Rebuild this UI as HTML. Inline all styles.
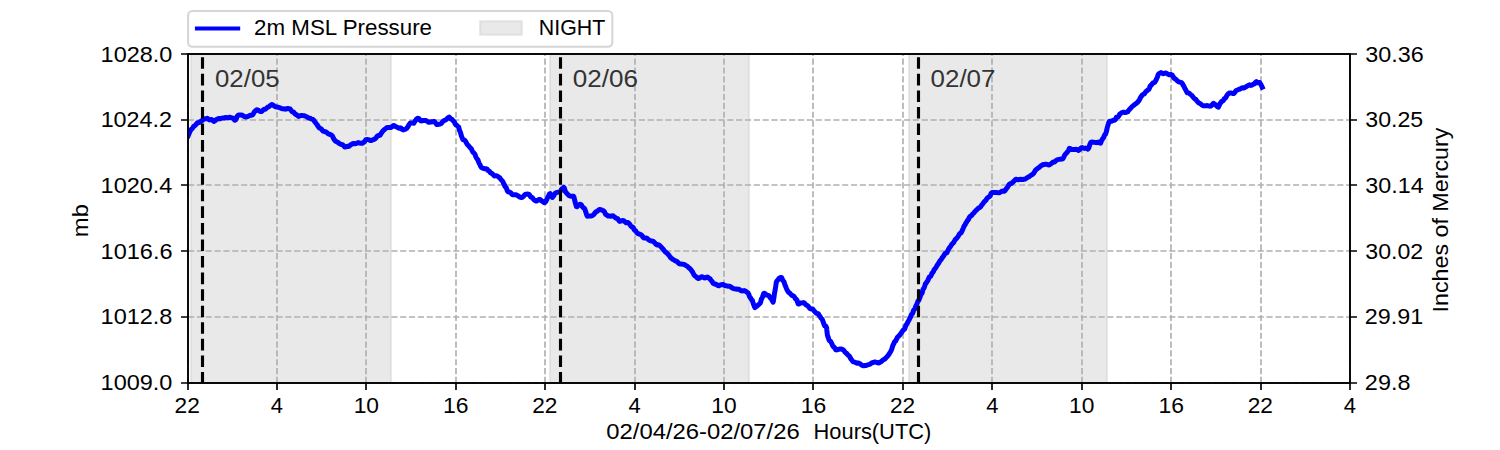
<!DOCTYPE html><html><head><meta charset="utf-8"><style>html,body{margin:0;padding:0;background:#fff;width:1500px;height:450px;overflow:hidden}svg{display:block}text{font-family:"Liberation Sans",sans-serif}</style></head><body>
<svg width="1500" height="450" viewBox="0 0 1500 450">
<rect x="0" y="0" width="1500" height="450" fill="#fff"/>
<rect x="191" y="54" width="200" height="329" fill="#d3d3d3" fill-opacity="0.5" stroke="#d3d3d3" stroke-opacity="0.5" stroke-width="2.08"/>
<rect x="550" y="54" width="199" height="329" fill="#d3d3d3" fill-opacity="0.5" stroke="#d3d3d3" stroke-opacity="0.5" stroke-width="2.08"/>
<rect x="909" y="54" width="198" height="329" fill="#d3d3d3" fill-opacity="0.5" stroke="#d3d3d3" stroke-opacity="0.5" stroke-width="2.08"/>
<path d="M188 383V54M277 383V54M366 383V54M456 383V54M545 383V54M635 383V54M724 383V54M813 383V54M903 383V54M992 383V54M1082 383V54M1171 383V54M1261 383V54M1350 383V54M188 383H1350M188 317H1350M188 251H1350M188 185H1350M188 120H1350M188 54H1350" stroke="#b0b0b0" stroke-width="1.667" stroke-dasharray="6.17 2.67" fill="none"/>
<defs><clipPath id="ax"><rect x="187.5" y="54" width="1162.5" height="329"/></clipPath></defs>
<polyline clip-path="url(#ax)" points="188.2,135.6 188.7,134.5 189.3,133.1 189.8,131.8 190.4,130.7 190.9,129.7 191.5,129.2 192.2,128.6 193.1,127.3 193.9,126.2 194.8,125.8 195.6,125.0 196.5,123.9 197.4,122.8 198.5,122.7 199.6,122.3 200.7,121.4 201.9,120.6 203.0,119.9 204.0,119.1 205.1,118.8 206.1,118.6 207.2,118.3 208.3,119.2 209.4,119.9 210.5,119.7 211.6,119.5 212.8,120.4 213.9,121.5 214.9,120.8 216.0,119.8 217.1,119.2 218.1,118.7 219.2,118.5 220.4,118.7 221.6,118.2 222.7,118.1 223.9,118.1 225.1,117.6 226.3,117.6 227.5,117.7 228.7,117.5 229.9,117.2 231.1,117.8 232.3,117.9 233.2,118.1 233.9,119.3 234.7,120.3 235.3,120.0 235.9,119.6 236.5,118.2 237.1,116.4 237.8,115.6 238.5,115.1 239.7,115.1 240.9,115.1 242.1,115.1 243.2,115.8 244.2,116.5 245.2,116.7 246.2,117.0 247.3,116.7 248.5,116.2 249.6,115.5 250.8,115.2 251.8,115.2 252.6,114.9 253.4,113.8 254.2,112.1 255.0,111.2 255.8,110.4 256.9,109.8 258.1,110.1 259.3,111.0 260.5,111.6 261.6,111.5 262.7,110.4 263.7,109.5 264.7,109.3 265.7,109.0 266.8,108.0 267.8,107.1 268.8,106.7 269.8,106.0 270.8,105.1 271.9,104.5 273.0,105.1 274.1,105.9 275.3,106.7 276.4,107.0 277.6,107.1 278.7,107.4 279.9,107.8 281.0,108.3 282.1,108.7 283.2,108.8 284.4,108.9 285.5,109.2 286.6,108.8 287.8,108.5 289.0,108.8 290.2,109.0 291.1,110.4 292.0,111.7 292.8,111.8 293.7,112.3 294.6,113.5 295.6,114.3 296.5,114.8 297.5,115.6 298.5,116.4 299.7,116.1 300.9,115.5 302.1,115.4 303.2,115.6 304.4,115.8 305.5,116.3 306.7,116.8 307.8,117.6 308.9,118.0 310.0,118.2 310.9,118.7 311.9,119.1 312.9,119.4 313.8,120.3 314.6,121.5 315.3,122.4 316.1,123.5 316.9,124.5 317.6,125.5 318.4,126.7 319.2,127.8 320.1,128.3 321.1,128.7 322.1,130.2 323.0,131.2 324.0,131.3 325.0,131.6 326.1,132.1 327.1,132.8 328.1,133.7 329.2,134.2 330.2,134.5 331.2,134.9 332.1,135.6 332.8,136.8 333.5,138.4 334.2,139.5 334.9,140.5 335.6,141.2 336.4,141.6 337.4,142.2 338.5,142.9 339.5,143.6 340.5,144.2 341.6,144.5 342.6,144.7 343.7,145.8 344.8,147.0 345.9,147.0 347.0,146.3 348.1,146.5 349.2,146.2 350.3,145.1 351.4,144.4 352.5,143.8 353.6,143.4 354.8,143.7 356.0,143.6 357.1,143.0 358.3,142.6 359.4,143.0 360.6,143.2 361.8,143.3 362.8,143.0 363.5,142.3 364.3,142.0 365.0,140.9 365.7,139.9 366.6,139.5 367.8,139.5 369.0,139.9 370.2,140.4 371.3,140.5 372.4,140.0 373.3,139.6 374.3,139.3 375.3,138.6 376.3,137.5 377.2,136.2 378.2,135.4 379.2,135.5 380.2,135.1 380.9,133.8 381.5,132.9 382.1,132.1 382.8,131.2 383.7,130.2 384.7,129.3 385.6,128.6 386.7,127.7 387.8,127.5 388.9,127.5 390.1,127.4 391.2,127.4 392.3,126.5 393.4,125.4 394.5,125.6 395.7,126.6 396.8,127.0 397.9,127.7 399.0,128.2 400.1,127.8 401.1,128.1 402.2,129.5 403.3,129.9 404.5,129.5 405.7,129.1 406.8,128.3 407.5,127.3 408.1,126.5 408.7,125.2 409.3,124.2 409.8,123.7 410.4,123.0 411.5,123.1 412.7,123.1 413.8,123.2 414.4,122.1 415.0,121.3 415.6,120.5 416.2,119.5 416.8,118.8 417.4,118.3 418.1,118.3 418.9,118.6 419.7,119.6 420.5,120.6 421.3,121.0 422.2,120.7 423.3,120.5 424.4,120.5 425.4,120.4 426.5,120.8 427.6,121.5 428.6,122.3 429.7,122.2 430.8,121.8 432.0,121.9 433.2,121.5 434.4,121.4 435.6,123.0 436.7,124.4 437.8,124.5 438.9,124.2 439.9,124.1 440.7,123.9 441.6,123.1 442.4,122.0 443.3,121.1 444.2,120.5 445.2,120.2 446.3,119.5 447.3,118.4 448.3,117.5 449.3,117.1 450.2,118.1 451.0,119.0 451.9,119.4 452.7,120.3 453.6,121.2 454.4,122.1 455.2,123.9 456.0,124.9 456.8,125.3 457.6,126.2 458.3,126.7 458.7,127.1 459.1,128.7 459.5,130.3 459.9,131.2 460.3,132.1 460.7,133.3 461.1,134.9 461.6,136.4 462.0,137.4 462.4,138.5 463.0,139.7 463.8,140.0 464.7,140.2 465.5,141.2 466.4,143.0 467.2,144.3 467.9,145.1 468.6,145.8 469.3,146.6 470.0,147.4 470.8,148.2 471.5,149.1 472.1,150.5 472.8,152.0 473.5,152.7 474.1,153.2 474.8,153.9 475.3,155.2 475.9,157.0 476.4,158.0 476.9,158.6 477.5,159.3 478.0,160.1 478.5,161.7 479.1,163.1 479.5,163.9 480.0,164.8 480.5,166.0 481.0,166.9 481.5,167.6 482.5,168.1 483.7,168.5 484.9,168.7 486.1,168.7 487.2,169.3 488.0,170.5 488.7,170.8 489.5,171.3 490.3,172.5 491.1,173.2 492.2,173.6 493.3,174.8 494.4,175.9 495.4,175.8 496.5,175.7 497.6,176.2 498.5,177.1 499.4,177.5 500.3,178.5 501.2,179.9 502.1,180.6 503.0,181.9 503.5,183.3 504.0,184.0 504.5,185.3 505.0,186.5 505.5,187.0 506.0,187.3 506.5,188.3 507.0,190.1 507.9,191.6 508.8,192.1 509.7,192.1 510.6,192.6 511.5,193.7 512.5,194.7 513.7,194.7 514.9,194.8 516.1,194.8 517.1,195.2 518.1,195.9 519.1,196.6 520.1,197.3 521.2,197.4 522.3,197.3 523.4,196.4 524.4,195.1 525.5,194.2 526.7,194.3 527.9,194.0 529.1,194.4 530.1,195.9 530.8,197.1 531.6,197.3 532.4,197.7 533.2,198.8 534.1,199.8 535.3,200.6 536.5,201.1 537.7,200.4 538.9,199.5 540.1,199.4 541.1,200.3 542.0,201.1 542.9,201.7 543.8,202.5 544.6,202.6 545.2,202.2 545.8,201.6 546.4,200.2 547.0,198.8 547.6,197.7 548.2,196.5 548.8,195.3 549.4,194.0 550.1,193.6 550.8,194.8 551.6,196.4 552.3,197.4 553.1,196.6 553.9,195.5 554.7,193.9 555.5,193.0 556.3,192.7 557.4,192.4 558.5,192.1 559.7,191.9 560.6,191.0 561.4,189.4 562.2,188.6 563.0,188.4 563.7,187.3 564.3,188.0 564.8,189.8 565.3,191.4 565.9,192.2 566.4,192.8 566.9,193.4 567.9,194.4 569.0,195.6 570.2,196.0 571.3,196.2 572.4,196.3 573.5,196.2 573.9,196.9 574.3,198.5 574.6,200.0 574.9,201.0 575.2,202.5 575.5,203.6 575.8,204.2 576.1,205.3 576.4,206.6 577.1,206.7 578.0,205.8 578.9,204.9 579.9,204.2 580.7,204.4 581.6,205.2 582.5,206.7 583.3,207.7 584.2,208.0 584.8,209.1 585.2,210.2 585.6,211.4 586.1,212.9 586.5,214.2 586.9,215.4 587.4,216.2 588.6,216.1 589.8,215.9 591.0,215.9 592.1,215.8 593.0,215.1 593.9,214.3 594.8,213.2 595.7,212.1 596.5,211.5 597.4,211.1 598.3,210.3 599.3,209.6 600.4,209.6 601.6,209.9 602.7,210.5 603.6,210.9 604.3,211.6 605.1,213.3 605.8,214.6 606.5,214.8 607.2,215.4 608.2,216.0 609.4,216.1 610.6,216.2 611.8,215.9 613.0,215.8 614.0,216.6 614.9,217.3 615.8,218.0 616.7,218.4 617.6,218.7 618.5,220.0 619.5,221.4 620.7,221.1 621.9,220.7 623.0,220.5 624.1,220.9 625.1,221.9 626.1,222.7 627.1,222.5 628.1,222.5 629.0,223.3 629.9,224.5 630.8,226.0 631.8,226.9 632.6,227.0 633.3,227.6 634.0,229.3 634.7,230.3 635.5,230.6 636.2,231.7 637.1,232.9 638.1,233.7 639.1,234.0 640.1,234.3 641.1,234.7 642.2,235.8 643.2,237.4 644.2,238.0 645.2,238.0 646.2,238.0 647.2,238.4 648.3,239.5 649.4,240.3 650.5,240.8 651.6,241.0 652.8,241.2 653.9,241.9 654.9,243.0 655.9,244.3 656.9,245.0 658.0,244.8 659.0,245.0 659.9,245.7 660.7,246.5 661.6,247.4 662.4,248.3 663.2,249.2 664.0,250.4 664.9,251.4 665.7,252.2 666.5,252.8 667.3,253.4 668.1,254.2 668.9,255.3 669.7,256.4 670.5,257.5 671.3,258.2 672.1,258.8 673.0,259.5 674.1,260.0 675.1,260.7 676.1,261.2 677.2,261.6 678.2,262.7 679.2,263.7 680.3,264.0 681.5,264.1 682.7,264.2 683.8,264.4 685.0,264.8 686.0,265.6 687.0,266.2 688.0,266.8 688.9,267.8 689.9,268.7 690.7,269.4 691.4,270.4 692.0,271.3 692.6,272.1 693.3,273.5 693.9,274.8 694.7,275.7 695.6,276.4 696.4,276.9 697.2,277.9 698.3,278.5 699.4,278.2 700.6,277.4 701.7,276.7 702.9,277.1 704.1,277.8 705.3,277.9 706.4,277.3 707.6,277.1 708.7,277.9 709.4,278.5 710.1,278.8 710.8,280.1 711.6,280.9 712.3,281.7 713.1,283.2 714.3,284.0 715.5,284.1 716.6,284.6 717.8,285.5 719.0,285.7 720.2,285.1 721.4,284.7 722.5,284.5 723.7,284.8 724.9,285.5 726.1,285.8 727.3,285.9 728.4,286.3 729.6,286.3 730.7,286.8 731.8,287.7 733.0,288.3 734.1,288.7 735.2,288.9 736.3,289.0 737.4,289.3 738.5,289.2 739.6,289.6 740.8,290.6 742.0,291.0 743.2,290.8 744.3,290.6 745.5,291.0 746.3,291.9 747.2,292.3 748.0,293.0 748.9,294.6 749.4,296.4 750.0,297.3 750.6,297.9 751.2,299.2 751.7,300.0 752.3,300.3 752.8,301.9 753.4,303.8 753.9,305.2 754.4,306.6 755.0,307.5 755.9,306.8 756.9,306.1 757.9,305.3 758.9,304.3 759.7,303.6 760.1,303.2 760.6,302.3 761.0,300.6 761.4,299.1 761.9,298.3 762.3,297.5 762.8,296.3 763.2,295.1 763.7,293.4 764.5,293.3 765.6,294.1 766.7,295.1 767.8,295.4 768.6,295.4 769.4,296.3 770.1,297.7 770.8,298.3 771.6,299.2 772.3,300.9 773.1,302.1 773.4,301.0 773.5,299.8 773.7,298.7 773.9,297.6 774.1,296.3 774.3,294.6 774.5,293.2 774.7,292.3 774.9,291.3 775.1,290.4 775.3,289.0 775.5,287.5 775.7,286.4 775.8,285.5 776.0,284.4 776.2,282.9 776.4,281.8 776.6,281.5 776.8,281.0 777.8,280.1 778.8,278.6 779.8,277.9 780.8,277.5 781.4,277.4 781.9,278.0 782.4,279.5 782.9,280.6 783.4,281.1 783.9,281.7 784.4,283.1 784.9,284.8 785.4,285.9 785.9,287.0 786.4,288.4 786.9,289.6 787.4,290.5 787.9,291.5 788.5,292.2 789.4,292.8 790.4,293.8 791.4,295.0 792.3,295.5 793.3,295.8 794.2,296.6 794.9,297.9 795.5,298.8 796.2,299.2 796.9,300.1 797.6,302.1 798.2,304.0 799.2,303.9 800.3,303.0 801.4,302.9 802.6,302.8 803.6,302.6 804.5,303.2 805.5,304.3 806.4,305.1 807.4,305.5 808.3,306.3 809.3,307.8 810.2,308.7 811.1,309.0 812.0,309.1 812.9,309.4 813.8,310.5 814.7,311.6 815.6,312.5 816.5,313.3 817.5,313.5 818.4,313.9 819.1,315.2 819.8,316.2 820.4,317.1 821.1,318.2 821.8,318.8 822.4,319.8 823.1,321.6 823.6,323.2 824.1,324.6 824.7,325.8 825.2,325.9 825.8,326.0 826.3,327.0 826.7,328.3 826.8,329.9 826.9,331.0 827.0,332.0 827.2,333.3 827.3,334.6 827.7,336.0 828.1,337.3 828.5,338.3 828.8,339.4 829.2,340.4 830.0,341.0 830.8,341.7 831.7,343.4 832.5,345.3 833.3,346.5 833.9,347.2 834.5,347.6 835.1,348.4 835.7,349.7 836.7,349.9 837.9,349.4 839.0,349.2 840.2,349.0 841.4,348.9 842.4,349.4 843.4,349.9 844.4,351.2 845.4,352.6 846.2,353.1 846.9,353.6 847.7,354.8 848.5,355.6 849.3,356.0 850.0,357.1 850.7,358.6 851.4,359.5 852.2,360.6 852.9,361.6 853.7,361.9 854.9,362.1 856.0,362.8 857.1,363.3 858.2,363.0 859.3,363.3 860.5,364.2 861.6,365.0 862.8,365.7 864.0,365.7 865.1,365.5 866.3,365.4 867.4,365.0 868.6,364.6 869.8,364.4 870.9,363.5 872.0,362.7 873.2,362.5 874.3,362.1 875.4,362.0 876.6,362.4 877.8,362.8 879.0,363.0 880.2,362.2 881.4,361.5 882.3,360.7 883.2,359.9 884.1,359.3 885.0,358.9 885.9,357.8 886.8,356.8 887.4,356.4 888.0,355.7 888.6,354.6 889.3,353.7 889.9,352.7 890.5,351.8 891.0,350.9 891.5,349.7 892.0,348.4 892.4,346.9 892.9,345.3 893.4,344.4 893.9,343.6 894.3,342.3 894.9,341.3 895.6,341.0 896.3,339.7 897.1,337.9 897.8,336.8 898.6,336.3 899.3,335.6 900.1,334.6 900.7,333.7 901.4,332.8 902.0,331.9 902.7,330.7 903.4,329.9 904.0,329.8 904.7,328.9 905.4,326.9 905.9,325.3 906.5,324.5 907.1,323.7 907.7,322.3 908.3,321.3 908.9,320.3 909.5,319.0 910.1,317.9 910.7,316.7 911.2,315.2 911.7,314.3 912.2,313.8 912.7,313.1 913.2,311.7 913.7,310.1 914.2,309.5 914.7,309.1 915.2,308.1 915.7,306.5 916.2,305.3 916.8,304.4 917.3,303.0 917.8,301.5 918.2,300.9 918.7,300.5 919.1,299.6 919.6,298.3 920.1,297.0 920.5,295.8 921.0,294.4 921.4,293.7 921.9,293.4 922.4,291.9 922.8,290.0 923.3,288.9 923.8,288.3 924.3,287.3 924.9,285.5 925.4,283.8 926.0,283.2 926.5,282.5 927.0,281.8 927.6,281.0 928.1,279.9 928.7,278.4 929.3,277.1 929.9,276.8 930.6,276.4 931.3,275.0 931.9,273.5 932.6,272.7 933.3,271.8 933.9,270.2 934.6,269.1 935.3,268.5 935.9,267.5 936.6,266.3 937.2,265.2 937.9,264.2 938.6,263.2 939.3,262.0 940.0,260.8 940.6,260.2 941.3,259.4 942.0,258.0 942.7,257.2 943.4,256.3 944.0,255.1 944.7,254.0 945.4,253.2 946.1,253.1 946.8,252.9 947.4,251.6 948.1,249.9 948.8,248.7 949.5,247.7 950.2,246.9 950.9,245.9 951.6,244.5 952.4,243.7 953.1,243.1 953.8,242.2 954.5,240.9 955.2,239.5 956.0,238.9 956.7,238.2 957.5,237.2 958.3,236.1 959.1,234.6 959.8,233.4 960.6,233.3 961.2,232.7 961.8,231.4 962.3,230.4 962.8,229.4 963.4,227.9 963.9,226.5 964.4,225.8 965.0,224.9 965.6,223.6 966.2,222.8 966.9,221.5 967.5,220.4 968.2,219.9 968.8,218.6 969.5,217.1 970.1,216.4 970.8,216.2 971.7,215.4 972.5,214.1 973.4,213.4 974.2,212.5 975.1,211.4 975.9,210.6 976.8,209.7 977.8,208.7 978.7,208.1 979.7,207.6 980.6,206.9 981.3,205.6 981.9,204.8 982.5,204.3 983.1,203.3 983.7,202.4 984.4,201.6 985.2,200.9 986.1,200.0 986.9,198.6 987.8,197.5 988.6,197.0 989.5,196.7 990.3,195.5 991.1,193.3 992.0,192.5 992.8,192.5 993.7,192.4 994.9,192.4 996.1,192.4 997.3,192.6 998.5,192.8 999.7,192.5 1000.8,191.9 1002.0,191.2 1003.2,191.1 1004.4,191.2 1005.1,190.5 1005.9,189.4 1006.6,188.2 1007.4,187.4 1008.1,186.2 1008.9,184.9 1009.6,184.0 1010.4,183.7 1011.3,183.5 1012.2,182.8 1013.1,181.9 1014.0,181.1 1014.9,180.1 1015.8,179.2 1017.0,179.5 1018.2,179.7 1019.4,179.4 1020.6,179.3 1021.8,179.5 1023.0,179.6 1024.1,179.2 1025.1,179.0 1026.2,178.4 1027.3,177.7 1028.3,177.1 1029.3,176.6 1030.2,175.9 1031.0,175.2 1031.9,174.8 1032.7,174.1 1033.6,173.3 1034.4,172.1 1035.3,170.5 1036.1,169.6 1037.0,169.0 1037.8,168.2 1038.9,167.6 1040.0,166.6 1041.1,165.7 1042.1,165.1 1043.2,164.6 1044.3,164.5 1045.4,164.3 1046.6,164.3 1047.8,164.8 1049.0,164.9 1050.2,164.4 1051.2,163.6 1052.1,162.8 1053.0,162.0 1053.9,162.0 1054.8,161.9 1055.7,160.9 1056.7,160.0 1057.9,159.6 1059.0,159.4 1060.2,159.2 1061.4,159.0 1062.4,159.1 1063.1,158.4 1063.8,157.0 1064.5,155.5 1065.2,154.4 1065.9,153.6 1066.6,152.9 1067.3,152.0 1068.0,151.2 1068.7,150.0 1069.4,148.3 1070.5,148.6 1071.6,149.5 1072.8,149.5 1074.0,149.4 1075.1,149.6 1076.3,149.3 1077.4,149.8 1078.6,150.4 1079.7,149.5 1080.9,148.1 1082.0,147.5 1083.2,148.0 1084.4,148.4 1085.6,148.1 1086.8,148.3 1088.0,149.1 1088.6,148.3 1089.2,146.6 1089.7,144.9 1090.2,143.6 1090.8,142.5 1091.6,141.9 1092.7,142.2 1093.9,142.2 1095.1,142.4 1096.2,142.7 1097.4,142.3 1098.5,142.1 1099.6,142.9 1100.6,143.2 1101.2,141.4 1101.9,140.1 1102.5,139.0 1103.1,138.2 1103.7,137.3 1104.3,135.6 1104.9,134.5 1105.5,134.1 1105.8,133.2 1106.2,132.2 1106.5,131.1 1106.8,130.0 1107.1,128.6 1107.4,126.9 1107.8,125.8 1108.1,124.9 1108.4,124.0 1108.7,122.8 1109.4,121.5 1110.4,121.2 1111.5,121.2 1112.6,120.6 1113.7,120.1 1114.6,120.3 1115.5,119.4 1116.3,117.4 1117.2,117.0 1118.0,117.0 1118.9,115.8 1119.7,114.3 1120.8,113.4 1121.9,112.7 1123.0,112.2 1124.1,112.3 1125.3,112.5 1126.5,112.3 1127.7,111.8 1128.4,110.7 1129.1,109.9 1129.8,109.0 1130.5,108.3 1131.1,107.9 1131.8,106.9 1132.8,106.0 1133.8,105.3 1134.8,104.4 1135.8,103.6 1136.8,103.0 1137.6,102.2 1138.3,101.2 1139.0,100.6 1139.6,99.4 1140.3,97.9 1141.0,96.8 1141.7,95.9 1142.3,95.0 1143.1,94.4 1144.2,94.0 1145.2,92.6 1146.2,91.3 1147.2,90.7 1147.8,89.9 1148.4,89.6 1148.9,89.3 1149.5,87.9 1150.1,86.1 1150.7,85.4 1151.3,85.2 1152.0,84.1 1152.9,83.0 1153.7,82.8 1154.6,82.5 1155.4,81.2 1156.2,79.7 1156.7,78.5 1157.3,77.3 1157.8,75.7 1158.3,74.5 1159.0,73.7 1160.1,73.0 1161.1,72.6 1162.2,73.2 1163.4,73.7 1164.6,73.2 1165.8,73.0 1166.9,73.5 1168.1,74.3 1169.2,74.8 1170.3,74.6 1171.3,74.6 1172.2,75.2 1173.0,76.4 1173.9,77.9 1174.7,78.7 1175.6,79.1 1176.5,80.0 1177.5,81.0 1178.5,81.7 1179.5,82.1 1180.5,82.3 1181.5,82.6 1182.5,83.8 1183.1,85.3 1183.6,85.8 1184.2,86.9 1184.8,88.4 1185.4,89.3 1185.9,90.2 1186.5,91.5 1187.1,92.7 1188.1,92.9 1189.1,93.2 1190.1,94.1 1191.1,94.9 1192.1,95.7 1193.0,96.9 1193.9,98.1 1194.8,98.8 1195.7,99.4 1196.6,100.5 1197.5,101.6 1198.4,102.6 1199.2,103.2 1200.1,103.5 1200.9,104.2 1201.8,105.0 1202.6,105.5 1203.8,105.7 1205.0,105.9 1206.2,105.7 1207.4,105.6 1208.5,105.9 1209.6,106.2 1210.6,106.1 1211.6,105.4 1212.5,104.3 1213.5,103.3 1214.5,103.9 1215.5,104.8 1216.5,105.7 1217.5,106.8 1218.4,107.2 1219.2,105.5 1219.9,103.8 1220.7,102.7 1221.4,101.7 1222.2,101.2 1222.9,101.1 1223.6,99.9 1224.4,98.5 1225.1,98.2 1225.9,97.6 1226.6,96.0 1227.4,94.7 1228.1,94.0 1228.8,93.4 1229.6,92.9 1230.6,92.9 1231.7,93.2 1232.9,93.5 1234.1,93.4 1235.0,92.1 1236.0,90.6 1237.0,90.2 1238.0,89.8 1239.1,89.3 1240.2,89.1 1241.3,88.3 1242.4,87.8 1243.6,88.1 1244.7,87.7 1245.6,86.9 1246.6,86.4 1247.6,85.7 1248.7,85.2 1249.7,84.8 1250.8,85.5 1251.7,85.2 1252.7,84.5 1253.6,84.2 1254.5,83.8 1255.4,82.4 1256.3,81.7 1257.4,82.7 1258.6,82.6 1259.7,82.6 1260.5,83.8 1261.1,85.0 1261.6,85.9 1262.2,87.2" stroke="#0000ff" stroke-width="5.0" fill="none" stroke-linejoin="round" stroke-linecap="square"/>
<path d="M202.5 383V54" stroke="#000" stroke-width="3.125" stroke-dasharray="11.56 5" stroke-dashoffset="0.5" fill="none"/>
<path d="M560.5 383V54" stroke="#000" stroke-width="3.125" stroke-dasharray="11.56 5" stroke-dashoffset="0.5" fill="none"/>
<path d="M918.5 383V54" stroke="#000" stroke-width="3.125" stroke-dasharray="11.56 5" stroke-dashoffset="0.5" fill="none"/>
<text x="215.00" y="86.50" font-size="23.3" textLength="64.61" lengthAdjust="spacingAndGlyphs" fill="#333333">02/05</text>
<text x="572.79" y="86.50" font-size="23.3" textLength="65.24" lengthAdjust="spacingAndGlyphs" fill="#333333">02/06</text>
<text x="930.60" y="86.50" font-size="23.3" textLength="64.84" lengthAdjust="spacingAndGlyphs" fill="#333333">02/07</text>
<rect x="188" y="54" width="1162" height="329" fill="none" stroke="#000" stroke-width="1.9"/>
<path d="M188 383v7.0M277 383v7.0M366 383v7.0M456 383v7.0M545 383v7.0M635 383v7.0M724 383v7.0M813 383v7.0M903 383v7.0M992 383v7.0M1082 383v7.0M1171 383v7.0M1261 383v7.0M1350 383v7.0M188 383h-7.0M1350 383h7.0M188 317h-7.0M1350 317h7.0M188 251h-7.0M1350 251h7.0M188 185h-7.0M1350 185h7.0M188 120h-7.0M1350 120h7.0M188 54h-7.0M1350 54h7.0" stroke="#000" stroke-width="1.667" fill="none"/>
<text x="174.59" y="413.00" font-size="21.2" textLength="25.23" lengthAdjust="spacingAndGlyphs">22</text>
<text x="270.79" y="413.00" font-size="21.2" textLength="12.23" lengthAdjust="spacingAndGlyphs">4</text>
<text x="353.69" y="413.00" font-size="21.2" textLength="25.36" lengthAdjust="spacingAndGlyphs">10</text>
<text x="443.11" y="413.00" font-size="21.2" textLength="25.48" lengthAdjust="spacingAndGlyphs">16</text>
<text x="532.28" y="413.00" font-size="21.2" textLength="25.23" lengthAdjust="spacingAndGlyphs">22</text>
<text x="628.48" y="413.00" font-size="21.2" textLength="12.23" lengthAdjust="spacingAndGlyphs">4</text>
<text x="711.38" y="413.00" font-size="21.2" textLength="25.36" lengthAdjust="spacingAndGlyphs">10</text>
<text x="800.80" y="413.00" font-size="21.2" textLength="25.48" lengthAdjust="spacingAndGlyphs">16</text>
<text x="889.97" y="413.00" font-size="21.2" textLength="25.23" lengthAdjust="spacingAndGlyphs">22</text>
<text x="986.17" y="413.00" font-size="21.2" textLength="12.23" lengthAdjust="spacingAndGlyphs">4</text>
<text x="1069.08" y="413.00" font-size="21.2" textLength="25.36" lengthAdjust="spacingAndGlyphs">10</text>
<text x="1158.49" y="413.00" font-size="21.2" textLength="25.48" lengthAdjust="spacingAndGlyphs">16</text>
<text x="1247.67" y="413.00" font-size="21.2" textLength="25.23" lengthAdjust="spacingAndGlyphs">22</text>
<text x="1343.86" y="413.00" font-size="21.2" textLength="12.23" lengthAdjust="spacingAndGlyphs">4</text>
<text x="100.64" y="390.10" font-size="21.2" textLength="71.80" lengthAdjust="spacingAndGlyphs">1009.0</text>
<text x="1364.89" y="390.10" font-size="21.2" textLength="45.57" lengthAdjust="spacingAndGlyphs">29.8</text>
<text x="100.64" y="324.40" font-size="21.2" textLength="71.81" lengthAdjust="spacingAndGlyphs">1012.8</text>
<text x="1364.89" y="324.40" font-size="21.2" textLength="58.36" lengthAdjust="spacingAndGlyphs">29.91</text>
<text x="100.64" y="258.70" font-size="21.2" textLength="71.91" lengthAdjust="spacingAndGlyphs">1016.6</text>
<text x="1365.33" y="258.70" font-size="21.2" textLength="57.92" lengthAdjust="spacingAndGlyphs">30.02</text>
<text x="100.64" y="193.00" font-size="21.2" textLength="71.77" lengthAdjust="spacingAndGlyphs">1020.4</text>
<text x="1365.32" y="193.00" font-size="21.2" textLength="58.29" lengthAdjust="spacingAndGlyphs">30.14</text>
<text x="100.65" y="127.30" font-size="21.2" textLength="71.41" lengthAdjust="spacingAndGlyphs">1024.2</text>
<text x="1365.33" y="127.30" font-size="21.2" textLength="57.90" lengthAdjust="spacingAndGlyphs">30.25</text>
<text x="100.64" y="61.60" font-size="21.2" textLength="71.80" lengthAdjust="spacingAndGlyphs">1028.0</text>
<text x="1365.32" y="61.60" font-size="21.2" textLength="58.42" lengthAdjust="spacingAndGlyphs">30.36</text>
<text x="606.26" y="439.00" font-size="21.2" textLength="193.52" lengthAdjust="spacingAndGlyphs">02/04/26-02/07/26</text>
<text x="813.58" y="439.00" font-size="21.2" textLength="117.73" lengthAdjust="spacingAndGlyphs">Hours(UTC)</text>
<text x="-18.90" y="0.00" font-size="21.2" textLength="33.02" lengthAdjust="spacingAndGlyphs" transform="translate(88,218.25) rotate(-90)">mb</text>
<text x="-94.28" y="0.00" font-size="21.2" textLength="184.89" lengthAdjust="spacingAndGlyphs" transform="translate(1448,218.25) rotate(-90)">Inches of Mercury</text>
<rect x="188.1" y="11" width="424.2" height="35.7" rx="4.2" ry="4.2" fill="#fff" stroke="#d6d6d6" stroke-width="2.08"/>
<path d="M197 28.5H238.1" stroke="#0000ff" stroke-width="4.17" stroke-linecap="square"/>
<text x="254.14" y="34.90" font-size="21.2" textLength="177.88" lengthAdjust="spacingAndGlyphs">2m MSL Pressure</text>
<rect x="480.1" y="21.2" width="41.7" height="13.6" fill="#d3d3d3" fill-opacity="0.5" stroke="#d3d3d3" stroke-opacity="0.5" stroke-width="2.08"/>
<text x="538.89" y="34.90" font-size="21.2" textLength="66.47" lengthAdjust="spacingAndGlyphs">NIGHT</text>
</svg></body></html>
